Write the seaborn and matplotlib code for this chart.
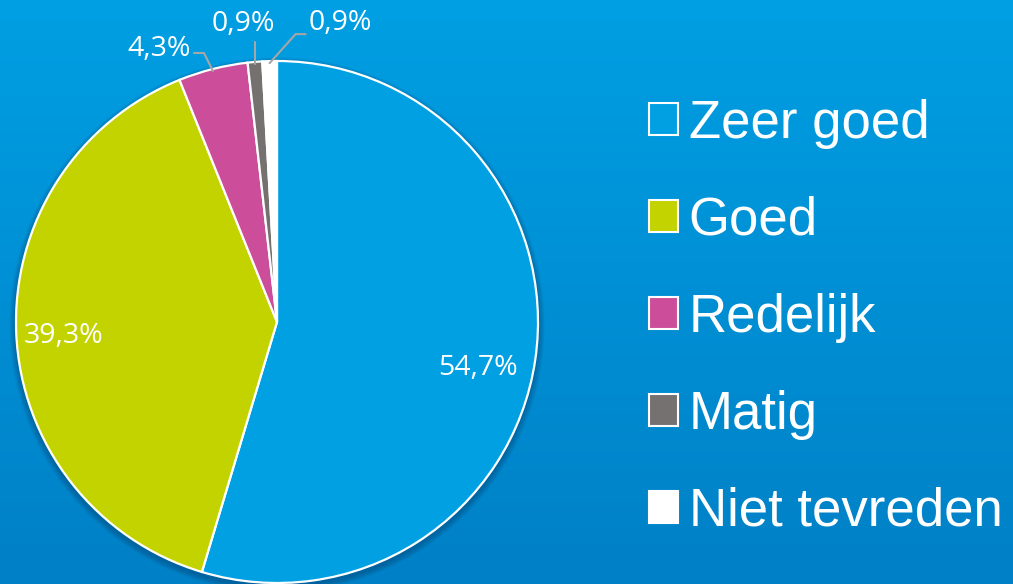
import numpy as np
import matplotlib
matplotlib.use("Agg")
import matplotlib.pyplot as plt
from matplotlib.patches import Patch, Circle
from matplotlib.colors import LinearSegmentedColormap
import seaborn as sns

categories = ["Zeer goed", "Goed", "Redelijk", "Matig", "Niet tevreden"]
values = [54.7, 39.3, 4.3, 0.9, 0.9]
labels = ["54,7%", "39,3%", "4,3%", "0,9%", "0,9%"]
colors = ["#00a0e3", "#c3d300", "#cc4e9b", "#767171", "#ffffff"]

sns.set_theme(style="white")
plt.rcParams["font.family"] = ["Liberation Sans", "DejaVu Sans"]

W, H = 1013, 584
fig = plt.figure(figsize=(W / 100, H / 100), dpi=100)
ax = fig.add_axes([0, 0, 1, 1])

# background gradient
cmap = LinearSegmentedColormap.from_list("bg", ["#0080c6", "#009fe3"])
grad = np.linspace(0, 1, 256).reshape(-1, 1)
ax.imshow(grad, extent=[0, W, 0, H], origin="lower", cmap=cmap, aspect="auto", zorder=0)

cx, cy, R = 277, 262, 261

# soft shadow
for i in range(8):
    ax.add_patch(Circle((cx, cy - 3), R + 1 + i * 0.8, color="#003a66", alpha=0.06, lw=0, zorder=1))

wedges, _ = ax.pie(values, colors=colors, startangle=90, counterclock=False,
                   center=(cx, cy), radius=R, frame=True,
                   wedgeprops=dict(edgecolor="white", linewidth=1.6, zorder=2))
ax.set_xlim(0, W)
ax.set_ylim(0, H)
ax.set_aspect("equal")
ax.axis("off")

lab_font = dict(family=["Open Sans", "DejaVu Sans"], fontsize=20.5, color="white")
lead = "#a6a6a6"

# inner labels
for i, f, off in ((0, 0.78, -16), (1, 0.82, -4)):
    w = wedges[i]
    ang = np.deg2rad((w.theta1 + w.theta2) / 2)
    ax.text(cx + f * R * np.cos(ang), cy + f * R * np.sin(ang) + off, labels[i],
            ha="center", va="center", zorder=5, **lab_font)

# outer labels with leader lines
def rim(i):
    w = wedges[i]
    ang = np.deg2rad((w.theta1 + w.theta2) / 2)
    return cx + R * np.cos(ang), cy + R * np.sin(ang)

# Redelijk
x0, y0 = rim(2)
ax.plot([x0, x0 - 9, x0 - 19], [y0 - 2, y0 + 16, y0 + 16], color=lead, lw=1.5, zorder=4)
ax.text(x0 - 22, y0 + 20, labels[2], ha="right", va="center", zorder=5, **lab_font)
# Matig
x0, y0 = rim(3)
ax.plot([x0, x0], [y0 - 2, y0 + 20], color=lead, lw=1.5, zorder=4)
ax.text(x0 - 12, y0 + 38, labels[3], ha="center", va="center", zorder=5, **lab_font)
# Niet tevreden
x0, y0 = rim(4)
ax.plot([x0, x0 + 26, x0 + 36], [y0 - 2, y0 + 27, y0 + 27], color=lead, lw=1.5, zorder=4)
ax.text(x0 + 39, y0 + 38, labels[4], ha="left", va="center", zorder=5, **lab_font)

handles = [Patch(facecolor=c, edgecolor="white", linewidth=1.5) for c in colors]
leg = ax.legend(handles, categories, loc="upper left",
                bbox_to_anchor=(649 / W, 1 - 99 / H), bbox_transform=fig.transFigure,
                frameon=False, fontsize=38, handlelength=0.55, handleheight=0.55,
                handletextpad=0.2, labelspacing=0.89, borderpad=0, borderaxespad=0,
                labelcolor="white")

fig.savefig("out.png", dpi=100)
